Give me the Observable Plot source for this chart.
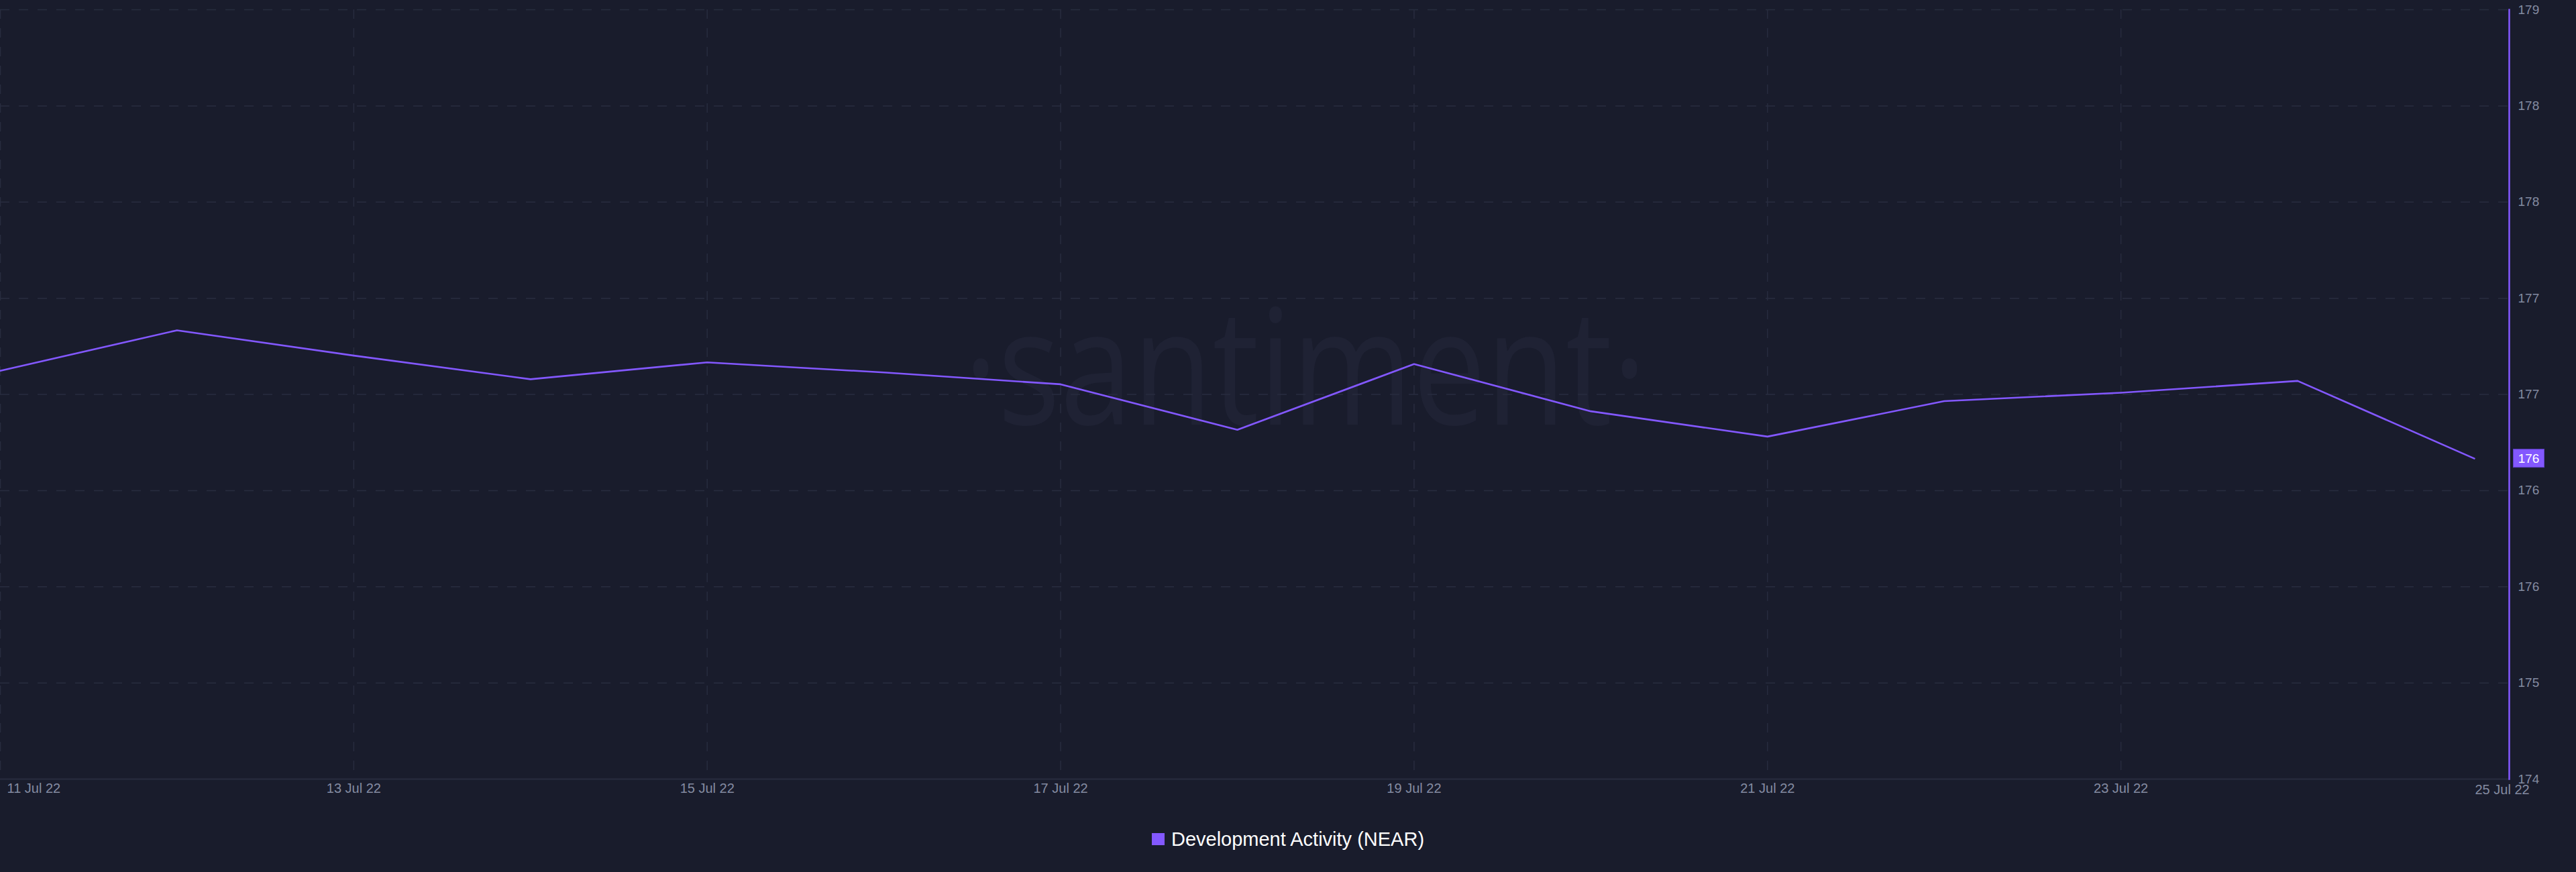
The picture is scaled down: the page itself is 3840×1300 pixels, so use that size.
<!DOCTYPE html>
<html>
<head>
<meta charset="utf-8">
<script src="https://cdn.jsdelivr.net/npm/d3@7"></script>
<script src="https://cdn.jsdelivr.net/npm/@observablehq/plot@0.6"></script>
<style>
  html, body { margin: 0; padding: 0; background: #191c2c; }
  #wrap { position: relative; width: 3840px; height: 1300px; background: #191c2c; overflow: hidden; }
  #legend { position: absolute; left: 0; top: 1234px; width: 3840px; height: 34px;
    display: flex; justify-content: center; align-items: center;
    font-family: "Liberation Sans", Arial, sans-serif; font-size: 29px; color: #ffffff; }
  #legend .sw { display: inline-block; width: 19px; height: 18px; background: #8358ff; margin-right: 10px; }
</style>
</head>
<body>
<div id="wrap">
  <div id="chart"></div>
  <div id="legend"><span class="sw"></span><span>Development Activity (NEAR)</span></div>
</div>
<script>
// ---- data ----
const dates = ["2022-07-11","2022-07-12","2022-07-13","2022-07-14","2022-07-15","2022-07-16","2022-07-17",
               "2022-07-18","2022-07-19","2022-07-20","2022-07-21","2022-07-22","2022-07-23","2022-07-24","2022-07-25"];
const values = [176.82, 177.06, 176.91, 176.77, 176.87, 176.81, 176.74,
                176.47, 176.86, 176.58, 176.43, 176.64, 176.69, 176.76, 176.30];
const seriesName = "Development Activity (NEAR)";

const xTickDates = ["2022-07-11","2022-07-13","2022-07-15","2022-07-17","2022-07-19","2022-07-21","2022-07-23","2022-07-25"];
const xTickLabels = ["11 Jul 22","13 Jul 22","15 Jul 22","17 Jul 22","19 Jul 22","21 Jul 22","23 Jul 22","25 Jul 22"];
const xGridDates = ["2022-07-11","2022-07-13","2022-07-15","2022-07-17","2022-07-19","2022-07-21","2022-07-23"];

const yTicks = [174.4, 174.97, 175.54, 176.11, 176.68, 177.25, 177.82, 178.39, 178.96];
const yTickLabels = ["174","175","176","176","177","177","178","178","179"];

const watermark = ["·santiment·"];

// ---- build ----
const parse = s => new Date(s + "T00:00:00Z");
const data = dates.map((d, i) => ({date: parse(d), value: values[i]}));
const xTicks = xTickDates.map((d, i) => ({date: parse(d), label: xTickLabels[i]}));
const xGrid = xGridDates.map(parse);
const last = data[data.length - 1];
const lastLabel = d3.format(".0f")(last.value);

const PURPLE = "#8358ff";
const GRID = "#282c3f";

const chart = Plot.plot({
  width: 3840,
  height: 1200,
  marginLeft: 0,
  marginRight: 100,
  marginTop: 14,
  marginBottom: 39,
  style: {background: "#191c2c", color: "#848ba1", fontFamily: "'Liberation Sans', Arial, sans-serif", fontSize: "19px", overflow: "visible"},
  x: {type: "utc", domain: [data[0].date, last.date], range: [0, 3688], axis: null},
  y: {domain: [yTicks[0], yTicks[yTicks.length - 1]], axis: null},
  marks: [
    Plot.text(watermark, {text: d => d, frameAnchor: "middle", dx: 75, dy: -32, fontSize: 240,
      fontFamily: "'Open Sans', sans-serif", fill: "#1f2234"}),
    Plot.ruleX(xGrid, {stroke: GRID, strokeWidth: 1.5, strokeDasharray: "14,14"}),
    Plot.ruleY(yTicks.slice(1), {stroke: GRID, strokeWidth: 1.5, strokeDasharray: "14,14"}),
    Plot.ruleY([yTicks[0]], {stroke: GRID, strokeWidth: 2}),
    Plot.lineY(data, {x: "date", y: "value", stroke: PURPLE, strokeWidth: 2.6}),
    Plot.frame({anchor: "right", stroke: PURPLE, strokeWidth: 2.5}),
    Plot.axisY({anchor: "right", ticks: yTicks, tickSize: 0, tickPadding: 13, label: null,
      tickFormat: d => yTickLabels[yTicks.indexOf(d)], fontSize: 19}),
    Plot.text(xTicks.slice(0, 1), {x: "date", text: "label", frameAnchor: "bottom", dy: 20, dx: 10, textAnchor: "start", fontSize: 20}),
    Plot.text(xTicks.slice(1, -1), {x: "date", text: "label", frameAnchor: "bottom", dy: 20, fontSize: 20}),
    Plot.text(xTicks.slice(-1), {x: "date", text: "label", frameAnchor: "bottom", dy: 22, dx: 1, textAnchor: "start", fontSize: 20}),
    Plot.text([last], {y: "value", frameAnchor: "right", dx: 29, textAnchor: "middle", text: () => lastLabel,
      fill: "#ffffff", fontSize: 19})
  ]
});

document.getElementById("chart").appendChild(chart);

// condense the watermark like the logo face (scale about its own centre)
d3.select(chart).selectAll("text").filter(function() { return this.textContent === watermark[0]; }).each(function() {
  const b = this.getBBox();
  const cx = b.x + b.width / 2;
  const t = this.getAttribute("transform") || "";
  this.setAttribute("transform", `${t} translate(${cx},0) scale(0.81,1) translate(${-cx},0)`.trim());
});
// badge behind the last value (the white text)
d3.select(chart).selectAll("text").filter(function() {
  return this.textContent === lastLabel && getComputedStyle(this).fill.replace(/\s/g, "") === "rgb(255,255,255)";
}).each(function() {
  const b = this.getBBox();
  const cx = b.x + b.width / 2, cy = b.y + b.height / 2;
  const t = this.getAttribute("transform");
  const r = d3.select(this.parentNode).insert("rect", () => this)
    .attr("x", cx - 23).attr("y", cy - 13.5).attr("width", 46).attr("height", 27)
    .attr("fill", PURPLE).attr("stroke", "#5f40c8").attr("stroke-width", 1);
  if (t) r.attr("transform", t);
});
</script>
</body>
</html>
